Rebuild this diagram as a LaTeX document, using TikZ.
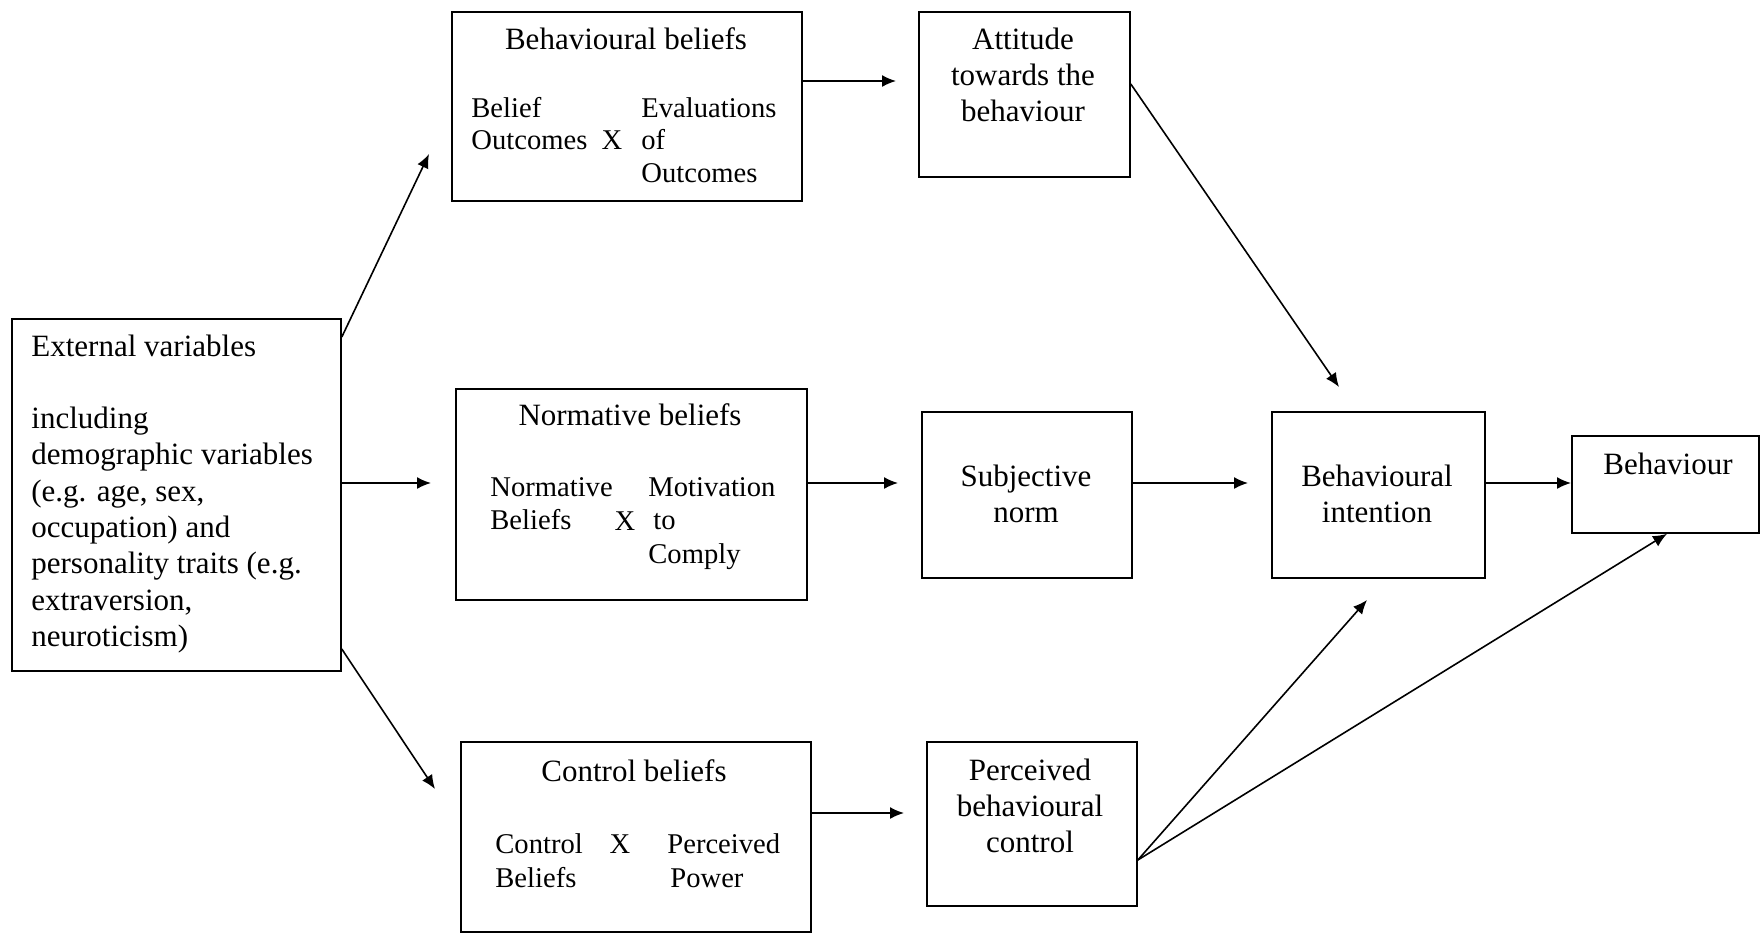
\documentclass[tikz,border=0pt]{standalone}
\usepackage{fontspec}
\setmainfont{Liberation Serif}
\usetikzlibrary{arrows.meta}
\newcommand{\mylrows}[3][15.5pt]{\fontsize{#1}{#2}\selectfont\begin{tabular}[t]{@{}l@{}}#3\end{tabular}}
\newcommand{\mycrows}[2]{\fontsize{15.5pt}{#1}\selectfont\begin{tabular}[t]{@{}c@{}}#2\end{tabular}}
\begin{document}
\begin{tikzpicture}[x=0.5pt,y=-0.5pt,
  box/.style={draw, line width=0.9pt, inner sep=0pt, anchor=north west},
  txt/.style={inner sep=0pt, font=\fontsize{15.5pt}{18pt}\selectfont},
  arr/.style={line width=0.8pt, -{Latex[length=7pt,width=6pt]}}]
\useasboundingbox[fill=white] (0,0) rectangle (1760,934);
% boxes
\node[box, minimum width=164.5pt, minimum height=176pt] (ext) at (11,318) {};
\node[box, minimum width=175pt, minimum height=94.5pt] (bb) at (451,11) {};
\node[box, minimum width=105.5pt, minimum height=82.5pt] (att) at (918,11) {};
\node[box, minimum width=175.5pt, minimum height=105.5pt] (nb) at (455,388) {};
\node[box, minimum width=105pt, minimum height=83pt] (sn) at (921,411) {};
\node[box, minimum width=175pt, minimum height=95pt] (cb) at (460,741) {};
\node[box, minimum width=105pt, minimum height=82pt] (pbc) at (926,741) {};
\node[box, minimum width=106.5pt, minimum height=83pt] (bi) at (1271,411) {};
\node[box, minimum width=93.5pt, minimum height=48.5pt] (beh) at (1571,435) {};
% texts
\node[txt, anchor=base west] (extT) at (31,356) {\mylrows{18.15pt}{External variables\\ \\ including\\ demographic variables\\ (e.g. age, sex,\\ occupation) and\\ personality traits (e.g.\\ extraversion,\\ neuroticism)}};
\node[txt, anchor=base] (bbT) at (626,49) {Behavioural beliefs};
\node[txt, anchor=base west] (bbL) at (471,117) {\mylrows[14.3pt]{16.25pt}{Belief\\ Outcomes}};
\node[txt, anchor=base] (bbX) at (612,149) {\fontsize{14.3pt}{16pt}\selectfont X};
\node[txt, anchor=base west] (bbR) at (641,117) {\mylrows[14.3pt]{16.25pt}{Evaluations\\ of\\ Outcomes}};
\node[txt, anchor=base] (attT) at (1023,49) {\mycrows{18pt}{Attitude\\ towards the\\ behaviour}};
\node[txt, anchor=base] (nbT) at (630,425) {Normative beliefs};
\node[txt, anchor=base west] (nbL) at (490,496) {\mylrows[14.3pt]{16.8pt}{Normative\\ Beliefs}};
\node[txt, anchor=base] (nbX) at (625,530) {\fontsize{14.3pt}{16pt}\selectfont X};
\node[txt, anchor=base west] (nbR) at (648,496) {\mylrows[14.3pt]{16.8pt}{Motivation\\ \hspace{2.5pt}to\\ Comply}};
\node[txt, anchor=base] (snT) at (1026,486) {\mycrows{18pt}{Subjective\\ norm}};
\node[txt, anchor=base] (cbT) at (634,781) {Control beliefs};
\node[txt, anchor=base west] (cbL) at (495,853) {\mylrows[14.3pt]{17pt}{Control\\ Beliefs}};
\node[txt, anchor=base] (cbX) at (620,853) {\fontsize{14.3pt}{16pt}\selectfont X};
\node[txt, anchor=base west] (cbR) at (667,853) {\mylrows[14.3pt]{17pt}{Perceived\\ \hspace{1.5pt}Power}};
\node[txt, anchor=base] (pbcT) at (1030,780) {\mycrows{18pt}{Perceived\\ behavioural\\ control}};
\node[txt, anchor=base] (biT) at (1377,486) {\mycrows{18pt}{Behavioural\\ intention}};
\node[txt, anchor=base] (behT) at (1668,474) {Behaviour};
% free arrow ends
\coordinate (e1) at (429,154);
\coordinate (e2) at (431,483);
\coordinate (e3) at (435,789);
\coordinate (e4) at (896,81);
\coordinate (e5) at (898,483);
\coordinate (e6) at (904,813);
\coordinate (e7) at (1339,387);
\coordinate (e8) at (1248,483);
\coordinate (e9) at (1367,600);
% connectors
\draw[arr] (ext.east |- 0,337) -- (e1);
\draw[arr] (ext.east |- 0,483) -- (e2);
\draw[arr] (ext.east |- 0,649) -- (e3);
\draw[arr] (bb.east |- 0,81) -- (e4);
\draw[arr] (nb.east |- 0,483) -- (e5);
\draw[arr] (cb.east |- 0,813) -- (e6);
\draw[arr] (att.east |- 0,84) -- (e7);
\draw[arr] (sn.east |- 0,483) -- (e8);
\draw[arr] (bi.east |- 0,483) -- (beh.west |- 0,483);
\draw[arr] (pbc.east |- 0,860) -- (e9);
\draw[arr] (pbc.east |- 0,860) -- (beh.south -| 1667,0);
\end{tikzpicture}
\end{document}
